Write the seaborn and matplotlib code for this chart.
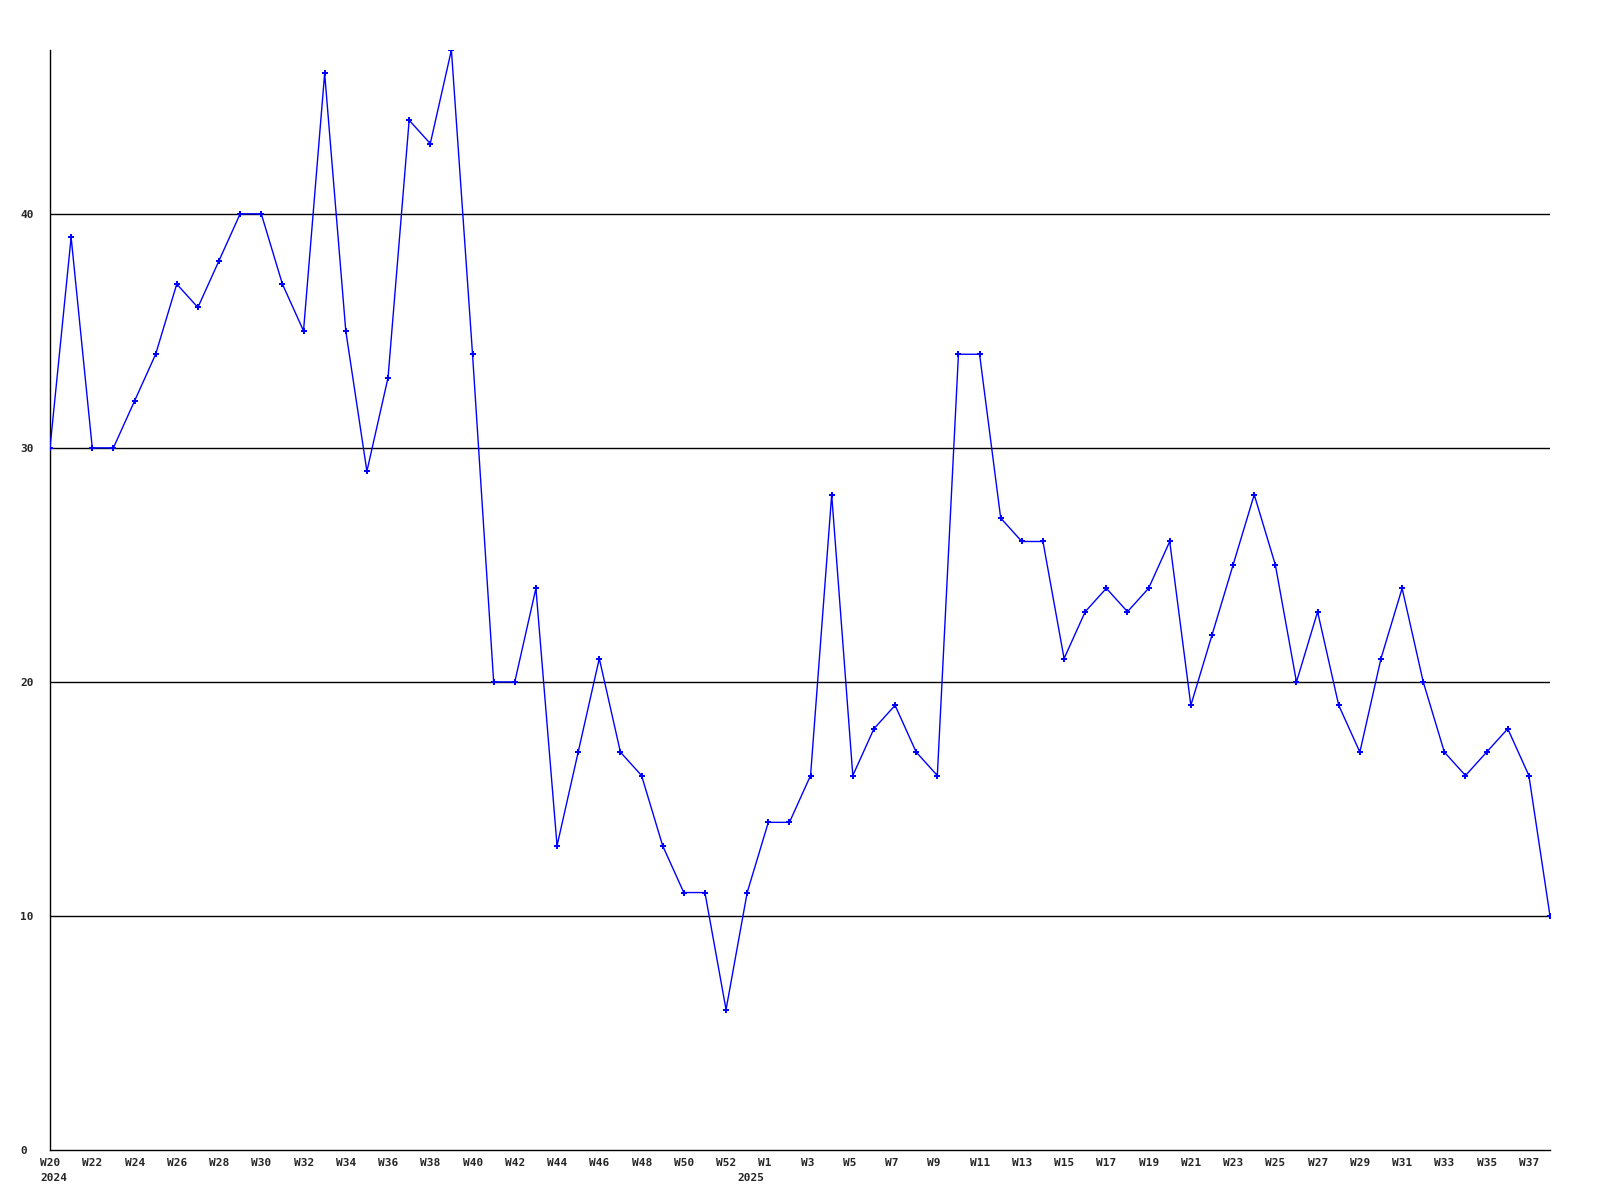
import matplotlib
matplotlib.use("Agg")
import matplotlib.pyplot as plt
import matplotlib.transforms as mtransforms
import seaborn as sns

# weekly values, W20 2024 .. W38 2025 (one extra week at the year change)
values = [30, 39, 30, 30, 32, 34, 37, 36, 38, 40, 40, 37, 35, 46, 35, 29, 33, 44, 43, 47,
          34, 20, 20, 24, 13, 17, 21, 17, 16, 13, 11, 11, 6,
          11,
          14, 14, 16, 28, 16, 18, 19, 17, 16, 34, 34, 27, 26, 26, 21, 23, 24, 23, 24, 26,
          19, 22, 25, 28, 25, 20, 23, 19, 17, 21, 24, 20, 17, 16, 17, 18, 16, 10]
weeks = list(range(len(values)))

# tick labels every two weeks
tick_pos = list(range(0, 33, 2)) + list(range(34, 71, 2))
tick_labels = (["W%d" % w for w in range(20, 53, 2)]
               + ["W%d" % w for w in range(1, 38, 2)])
year_pos = [0, 33]
year_labels = ["2024", "2025"]
y_ticks = [0, 10, 20, 30, 40]

sns.set_style("white")
plt.rcParams['font.family'] = ['DejaVu Sans Mono']
plt.rcParams['font.weight'] = 'bold'

fig = plt.figure(figsize=(16, 12), dpi=100)
ax = fig.add_axes([50 / 1600, 50 / 1200, 1500 / 1600, 1100 / 1200])

for y in y_ticks[1:]:
    ax.axhline(y, color='black', linewidth=1, zorder=1)

sns.lineplot(x=weeks, y=values, ax=ax, color='#0000ff', linewidth=1,
             marker='P', markersize=4, markeredgewidth=0, zorder=3)

ax.set_xlim(0, len(values) - 1)
ax.set_ylim(0, 47)
ax.set_xticks(tick_pos)
ax.set_xticklabels(tick_labels, fontsize=8, fontweight='bold')
ax.set_yticks(y_ticks)
ax.set_yticklabels([str(v) for v in y_ticks], fontsize=8, fontweight='bold')
ax.tick_params(axis='x', length=0, pad=6)
ax.tick_params(axis='y', length=0, pad=21.6)

off = mtransforms.ScaledTranslation(-10 / 100, 0, fig.dpi_scale_trans)
for lab in ax.get_xticklabels():
    lab.set_horizontalalignment('left')
    lab.set_transform(lab.get_transform() + off)
for lab in ax.get_yticklabels():
    lab.set_horizontalalignment('left')

# year labels under the first week of each year
year_off = mtransforms.ScaledTranslation(-10 / 100, -23 / 100, fig.dpi_scale_trans)
for xp, txt in zip(year_pos, year_labels):
    ax.text(xp, 0, txt, transform=ax.get_xaxis_transform() + year_off,
            ha='left', va='top', fontsize=8, fontweight='bold', clip_on=False)

for side in ['top', 'right']:
    ax.spines[side].set_visible(False)
for side in ['left', 'bottom']:
    ax.spines[side].set_color('black')
    ax.spines[side].set_linewidth(1)
ax.set_xlabel('')
ax.set_ylabel('')

fig.savefig('out.png', dpi=100)
